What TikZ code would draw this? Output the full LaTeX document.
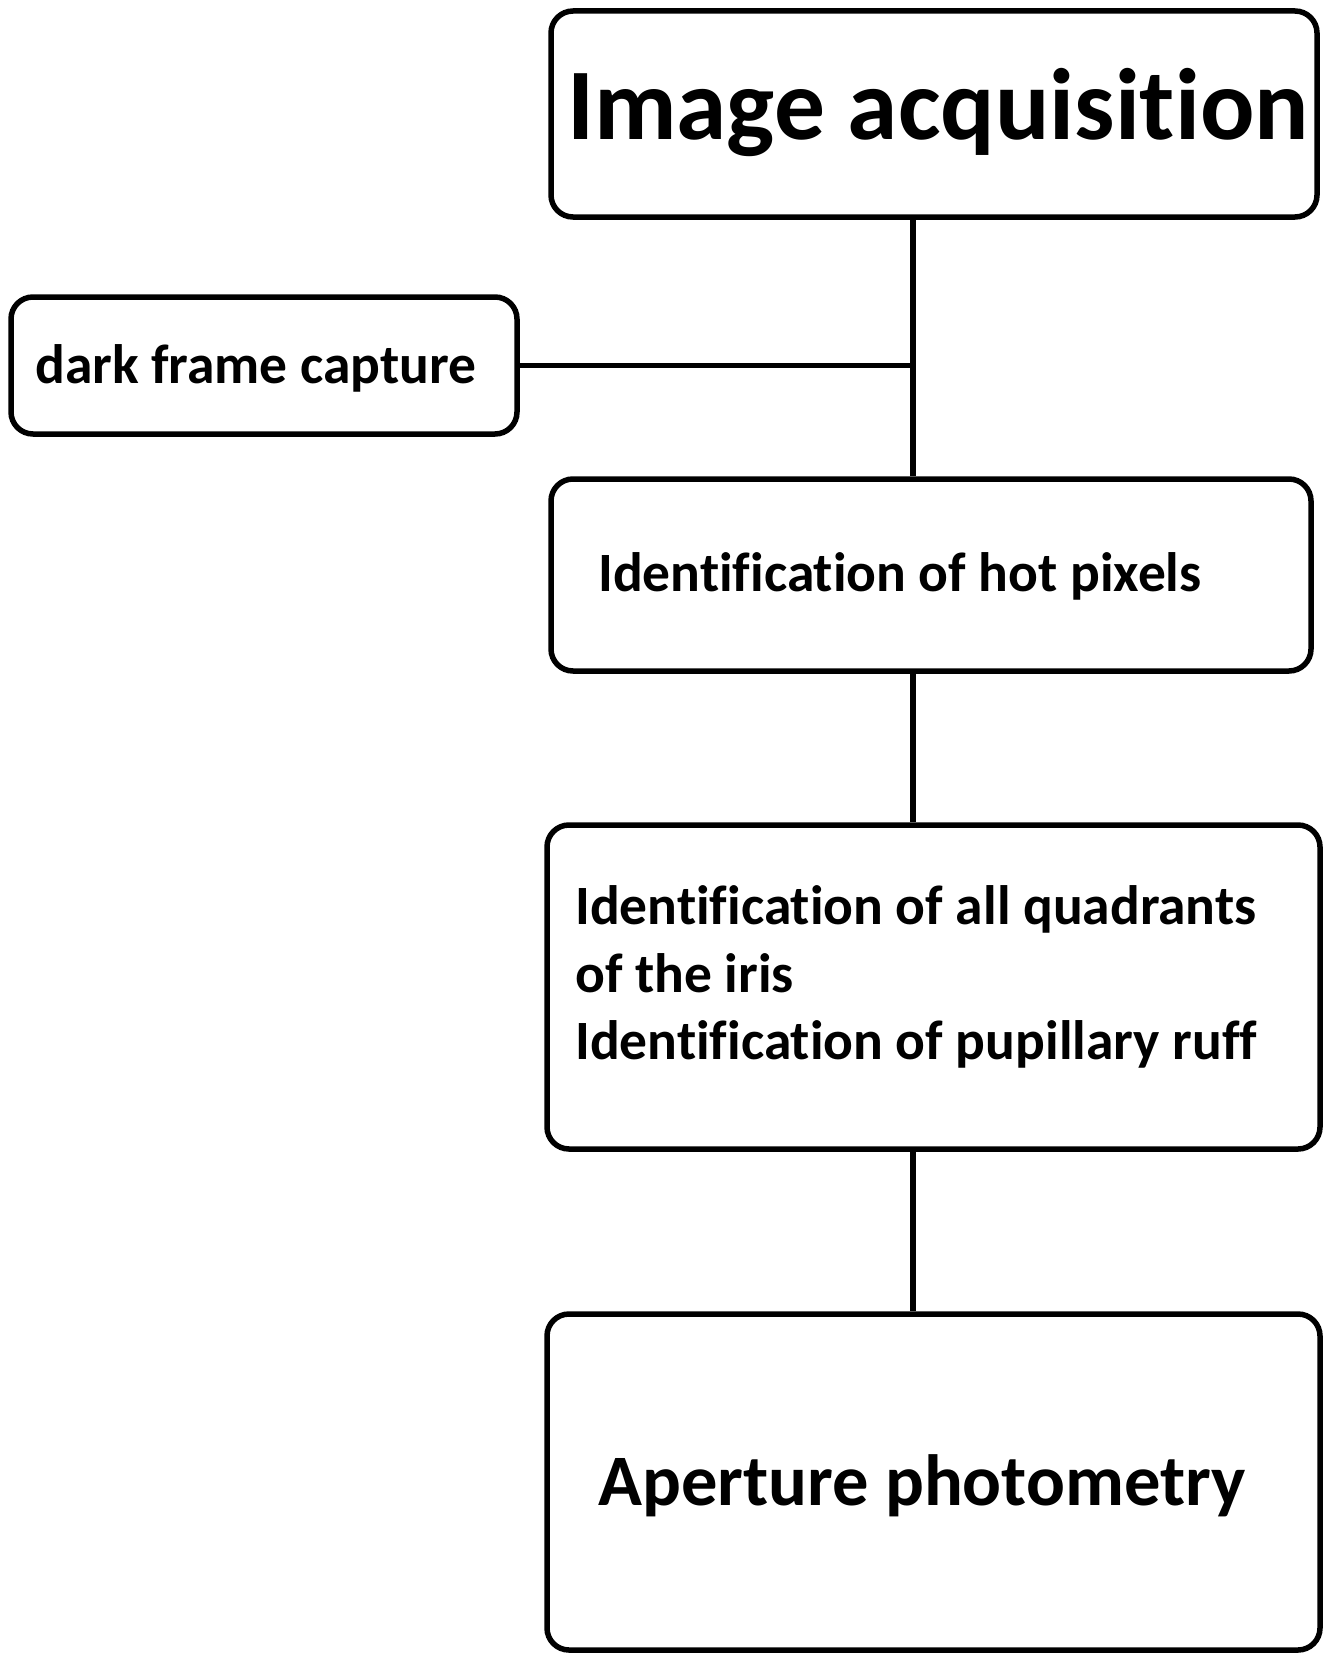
\documentclass[tikz,border=0pt]{standalone}
\usepackage{fontspec}
\setmainfont{Carlito}[Ligatures={NoCommon}]
\begin{document}
\begin{tikzpicture}[x=1pt,y=-1pt,
  box/.style={draw=black,line width=5.5pt,rounded corners=22pt,inner sep=0pt},
  lbl/.style={anchor=base west,inner sep=0pt,font=\bfseries},
  conn/.style={draw=black,line width=5.5pt}]
\useasboundingbox[fill=white] (0,0) rectangle (1325,1656);
% boxes
\node[box,minimum width=766pt,minimum height=206pt] (acq) at (934,114) {};
\node[box,minimum width=506pt,minimum height=137pt] (dark) at (264,365.5) {};
\node[box,minimum width=760pt,minimum height=192pt] (hot) at (931,575) {};
\node[box,minimum width=773pt,minimum height=324pt] (quad) at (933.5,987) {};
\node[box,minimum width=773pt,minimum height=336pt] (ap) at (933.5,1482) {};
% texts
\node[lbl,font=\bfseries\fontsize{101.5}{110}\selectfont] (tacq) at (567,140) {Image acquisition};
\node[lbl,font=\bfseries\fontsize{55.5}{60}\selectfont] (tdark) at (35,383) {dark frame capture};
\node[lbl,font=\bfseries\fontsize{55.5}{60}\selectfont] (thot) at (598,591) {Identification of hot pixels};
\node[lbl,font=\bfseries\fontsize{55.5}{60}\selectfont] (tq1) at (575,924) {Identification of all quadrants};
\node[lbl,font=\bfseries\fontsize{55.5}{60}\selectfont] (tq2) at (575,992) {of the iris};
\node[lbl,font=\bfseries\fontsize{55.5}{60}\selectfont] (tq3) at (575,1059) {Identification of pupillary ruff};
\node[lbl,font=\bfseries\fontsize{72.5}{80}\selectfont] (tap) at (598,1505) {Aperture photometry};
% connectors
\coordinate (col) at (913,0);
\draw[conn] (acq.south -| col) -- (hot.north -| col);
\draw[conn] (dark.east) -- (dark.east -| col);
\draw[conn] (hot.south -| col) -- (quad.north -| col);
\draw[conn] (quad.south -| col) -- (ap.north -| col);
\end{tikzpicture}
\end{document}
